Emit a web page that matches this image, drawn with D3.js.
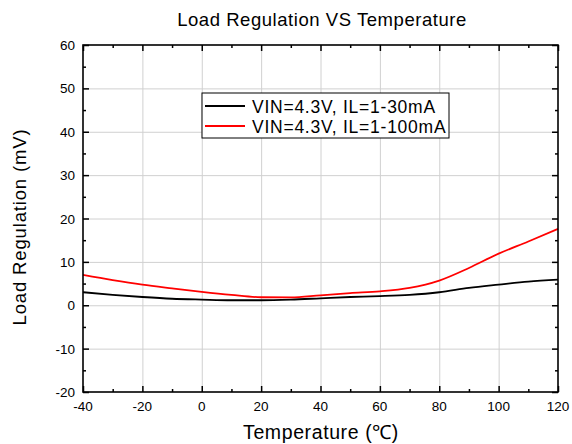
<!DOCTYPE html>
<html>
<head>
<meta charset="utf-8">
<script src="https://cdn.jsdelivr.net/npm/d3@7"></script>
<style>
  body { margin: 0; background: #fff; }
  svg text { font-family: "Liberation Sans", Arial, sans-serif; fill: #000; }
  .grid line { stroke: #d0d0d0; stroke-width: 1; }
  .grid path { display: none; }
  .axis path, .axis line { stroke: #000; }
  .axis path { stroke-width: 1.6; }
</style>
</head>
<body>
<script>
// values, every 10 degC
const temps = [-40, -30, -20, -10, 0, 10, 20, 30, 40, 50, 60, 70, 80, 90, 100, 110, 120];
const il30 = [3.0, 2.4, 1.9, 1.5, 1.3, 1.15, 1.15, 1.3, 1.6, 1.9, 2.1, 2.4, 3.0, 4.0, 4.75, 5.45, 5.9];
const il100 = [7.0, 5.8, 4.75, 3.9, 3.1, 2.4, 1.85, 1.8, 2.3, 2.8, 3.2, 4.0, 5.7, 8.6, 11.9, 14.7, 17.6];
const seriesNames = ["VIN=4.3V, IL=1-30mA", "VIN=4.3V, IL=1-100mA"];
const seriesColors = ["#000000", "#ff0000"];
const xTicks = [-40, -20, 0, 20, 40, 60, 80, 100, 120];
const yTicks = [-20, -10, 0, 10, 20, 30, 40, 50, 60];

const width = 572, height = 444;
const margin = { left: 83, right: 14, top: 45, bottom: 52 };
const plotWidth = width - margin.left - margin.right;
const plotHeight = height - margin.top - margin.bottom;

const svg = d3.select("body").append("svg")
  .attr("width", width)
  .attr("height", height);

const plot = svg.append("g")
  .attr("transform", `translate(${margin.left},${margin.top})`);

const xScale = d3.scaleLinear().domain([-40, 120]).range([0, plotWidth]);
const yScale = d3.scaleLinear().domain([-20, 60]).range([plotHeight, 0]);

// grid
plot.append("g").attr("class", "grid")
  .attr("transform", `translate(0,${plotHeight})`)
  .call(d3.axisBottom(xScale).tickValues(xTicks.slice(1, -1)).tickSize(-plotHeight).tickFormat(""));
plot.append("g").attr("class", "grid")
  .call(d3.axisLeft(yScale).tickValues(yTicks.slice(1, -1)).tickSize(-plotWidth).tickFormat(""));

// lines
const series = [il30, il100];
const line = d3.line()
  .x((d, i) => xScale(temps[i]))
  .y(d => yScale(d))
  .curve(d3.curveMonotoneX);

series.forEach((vals, k) => {
  plot.append("path")
    .datum(vals)
    .attr("fill", "none")
    .attr("stroke", seriesColors[k])
    .attr("stroke-width", 1.8)
    .attr("d", line);
});

// minor ticks (inward), all four sides
const xMinor = d3.range(-30, 120, 20);
const yMinor = d3.range(-15, 60, 10);
function ticksIn(g, axisFn, scale, values, size) {
  g.call(axisFn(scale).tickValues(values).tickSize(size).tickFormat(""))
   .call(s => s.select(".domain").remove());
}
const tickG = plot.append("g").attr("class", "axis");
ticksIn(tickG.append("g").attr("transform", `translate(0,${plotHeight})`), d3.axisTop, xScale, xTicks, 6);
ticksIn(tickG.append("g").attr("transform", `translate(0,${plotHeight})`), d3.axisTop, xScale, xMinor, 3);
ticksIn(tickG.append("g"), d3.axisBottom, xScale, xTicks, 6);
ticksIn(tickG.append("g"), d3.axisBottom, xScale, xMinor, 3);
ticksIn(tickG.append("g"), d3.axisRight, yScale, yTicks, 6);
ticksIn(tickG.append("g"), d3.axisRight, yScale, yMinor, 3);
ticksIn(tickG.append("g").attr("transform", `translate(${plotWidth},0)`), d3.axisLeft, yScale, yTicks, 6);
ticksIn(tickG.append("g").attr("transform", `translate(${plotWidth},0)`), d3.axisLeft, yScale, yMinor, 3);
tickG.selectAll("line").attr("stroke-width", 1.5);

// frame
plot.append("rect")
  .attr("width", plotWidth)
  .attr("height", plotHeight)
  .attr("fill", "none")
  .attr("stroke", "#000")
  .attr("stroke-width", 1.6);

// tick labels
plot.selectAll(".xlab").data(xTicks).enter().append("text")
  .attr("x", d => xScale(d))
  .attr("y", plotHeight + 19)
  .attr("text-anchor", "middle")
  .attr("font-size", 13.5)
  .text(d => d);
plot.selectAll(".ylab").data(yTicks).enter().append("text")
  .attr("x", -8)
  .attr("y", d => yScale(d) + 5)
  .attr("text-anchor", "end")
  .attr("font-size", 13.5)
  .text(d => d);

// titles
svg.append("text")
  .attr("x", 322).attr("y", 26)
  .attr("text-anchor", "middle")
  .attr("font-size", 18.5)
  .attr("letter-spacing", 0.55)
  .text("Load Regulation VS Temperature");
svg.append("text")
  .attr("x", 321).attr("y", 439)
  .attr("text-anchor", "middle")
  .attr("font-size", 19.5)
  .attr("letter-spacing", 0.6)
  .text("Temperature (℃)");
svg.append("text")
  .attr("transform", "translate(26,227) rotate(-90)")
  .attr("text-anchor", "middle")
  .attr("font-size", 18.5)
  .attr("letter-spacing", 0.85)
  .text("Load Regulation (mV)");

// legend
const legend = svg.append("g").attr("transform", "translate(202,93)");
legend.append("rect")
  .attr("width", 247).attr("height", 45)
  .attr("fill", "#fff")
  .attr("stroke", "#000")
  .attr("stroke-width", 1);
seriesNames.forEach((name, k) => {
  const y = 13 + k * 20;
  legend.append("line")
    .attr("x1", 3).attr("x2", 43)
    .attr("y1", y).attr("y2", y)
    .attr("stroke", seriesColors[k])
    .attr("stroke-width", 1.8);
  legend.append("text")
    .attr("x", 50).attr("y", y + 6.5)
    .attr("font-size", 17.5)
    .attr("letter-spacing", 0.75)
    .text(name);
});
</script>
</body>
</html>
